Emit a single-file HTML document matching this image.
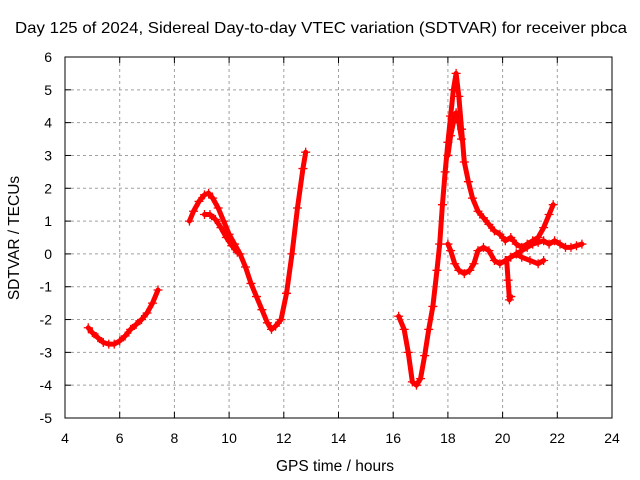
<!DOCTYPE html>
<html><head><meta charset="utf-8"><style>
body{margin:0;background:#fff}
svg{display:block;font-family:"Liberation Sans",sans-serif}
</style></head><body>
<svg id="chart" width="640" height="480" xmlns="http://www.w3.org/2000/svg">
<rect width="640" height="480" fill="#fff"/>
<text x="321" y="33" font-size="16" text-anchor="middle" textLength="612" lengthAdjust="spacingAndGlyphs">Day 125 of 2024, Sidereal Day-to-day VTEC variation (SDTVAR) for receiver pbca</text>
<text x="335" y="471" font-size="15.5" text-anchor="middle">GPS time / hours</text>
<text transform="translate(19,238) rotate(-90)" font-size="15.5" text-anchor="middle">SDTVAR / TECUs</text>
<g id="grid"></g><g id="axes"></g><g id="marks"></g>
<rect x="65" y="57" width="547" height="361" fill="none" stroke="#000" stroke-width="1"/>
</svg>
<script>
const xTicks=[4,6,8,10,12,14,16,18,20,22,24];
const yTicks=[-5,-4,-3,-2,-1,0,1,2,3,4,5,6];
const seriesA_x=[4.85,5.0,5.2,5.4,5.6,5.8,6.0,6.2,6.4,6.6,6.8,7.0,7.2,7.4];
const seriesA_y=[-2.25,-2.4,-2.55,-2.7,-2.75,-2.75,-2.65,-2.5,-2.3,-2.15,-2.0,-1.8,-1.5,-1.1];
const seriesB_x=[8.55,8.7,8.9,9.1,9.25,9.4,9.6,9.8,10.0,10.2,10.4,10.6,10.8,11.0,11.2,11.4,11.55,11.7,11.9,12.1,12.3,12.5,12.7,12.8];
const seriesB_y=[1.0,1.3,1.6,1.8,1.85,1.7,1.4,1.0,0.6,0.3,0.0,-0.4,-0.9,-1.3,-1.7,-2.1,-2.3,-2.2,-2.0,-1.2,0.0,1.4,2.6,3.1];
const seriesB2_x=[9.1,9.3,9.5,9.7,9.9,10.1,10.3];
const seriesB2_y=[1.2,1.2,1.05,0.8,0.5,0.25,0.05];
const seriesC_x=[16.2,16.4,16.55,16.7,16.85,17.0,17.15,17.3,17.45,17.6,17.7,17.8,17.9,18.0,18.1,18.2,18.3,18.4,18.5,18.6,18.75,18.9,19.1,19.3,19.5,19.7,19.9,20.1,20.3,20.5,20.7,20.9,21.1,21.3,21.5,21.7,21.85];
const seriesC_y=[-1.9,-2.3,-3.0,-3.9,-4.0,-3.8,-3.1,-2.3,-1.6,-0.5,0.3,1.5,2.5,3.4,4.2,5.0,5.5,4.8,3.8,2.8,2.2,1.7,1.3,1.1,0.9,0.7,0.6,0.4,0.5,0.3,0.2,0.3,0.4,0.5,0.8,1.2,1.5];
const seriesC2_x=[18.0,18.1,18.2,18.3,18.4,18.5];
const seriesC2_y=[3.0,3.6,4.0,4.3,4.0,3.5];
const seriesD_x=[18.0,18.1,18.25,18.4,18.6,18.8,18.95,19.1,19.3,19.5,19.7,19.9,20.1,20.3,20.5,20.7,20.9,21.1,21.3,21.5,21.7,21.9,22.1,22.3,22.5,22.7,22.9];
const seriesD_y=[0.3,0.1,-0.3,-0.5,-0.6,-0.5,-0.3,0.1,0.2,0.1,-0.2,-0.3,-0.2,-0.1,0.0,0.1,0.2,0.3,0.35,0.4,0.3,0.4,0.3,0.2,0.2,0.25,0.3];
const seriesE_x=[20.15,20.2,20.25,20.3];
const seriesE_y=[-0.2,-0.8,-1.4,-1.3];
const seriesF_x=[20.5,20.7,21.0,21.3,21.5];
const seriesF_y=[0.0,-0.1,-0.2,-0.3,-0.2];

const NS='http://www.w3.org/2000/svg';
const X0=65,X1=612,Y0=418,Y1=57;
const xs=v=>X0+(v-4)/20*(X1-X0);
const ys=v=>Y0-(v+5)/11*(Y0-Y1);
function mk(tag,attrs,parent){const e=document.createElementNS(NS,tag);for(const k in attrs)e.setAttribute(k,attrs[k]);parent.appendChild(e);return e;}
const grid=document.getElementById('grid'),axes=document.getElementById('axes'),marks=document.getElementById('marks');
xTicks.forEach(t=>{const x=xs(t);
 if(t>4&&t<24){const g=mk('line',{x1:x,x2:x,y1:Y1,y2:Y0,stroke:'#a0a0a0','stroke-dasharray':'3,3'},grid);
 
 }
 mk('line',{x1:x,x2:x,y1:Y0,y2:Y0-6,stroke:'#000'},axes);mk('line',{x1:x,x2:x,y1:Y1,y2:Y1+6,stroke:'#000'},axes);
 const l=mk('text',{x:x,y:443,'font-size':14,'text-anchor':'middle'},axes);l.textContent=t;
 
 
});
yTicks.forEach(t=>{const y=ys(t);
 if(t>-5&&t<6){const g=mk('line',{x1:X0,x2:X1,y1:y,y2:y,stroke:'#a0a0a0','stroke-dasharray':'3,3'},grid);
 
 }
 mk('line',{x1:X0,x2:X0+6,y1:y,y2:y,stroke:'#000'},axes);mk('line',{x1:X1,x2:X1-6,y1:y,y2:y,stroke:'#000'},axes);
 const l=mk('text',{x:52,y:y+5,'font-size':14,'text-anchor':'end'},axes);l.textContent=t;
 
 
});
function series(xa,ya,name){
 const g=mk('g',{},marks);
 
 
 const pts=xa.map((v,i)=>xs(v)+','+ys(ya[i])).join(' ');
 mk('polyline',{points:pts,fill:'none',stroke:'#f00','stroke-width':5,'stroke-linejoin':'round','stroke-linecap':'round'},g);
 xa.forEach((v,i)=>{const x=xs(v),y=ys(ya[i]);
  mk('path',{d:`M${x-4.5},${y}H${x+4.5}M${x},${y-4.5}V${y+4.5}`,stroke:'#f00','stroke-width':1.3},g);});
}
series(seriesA_x,seriesA_y,'series-morning');
series(seriesB_x,seriesB_y,'series-midday');
series(seriesB2_x,seriesB2_y,'series-midday-branch');
series(seriesC_x,seriesC_y,'series-evening');
series(seriesC2_x,seriesC2_y,'series-evening-peak-branch');
series(seriesD_x,seriesD_y,'series-evening-low-branch');
series(seriesE_x,seriesE_y,'series-dip');
series(seriesF_x,seriesF_y,'series-late-branch');
</script>
</body></html>
